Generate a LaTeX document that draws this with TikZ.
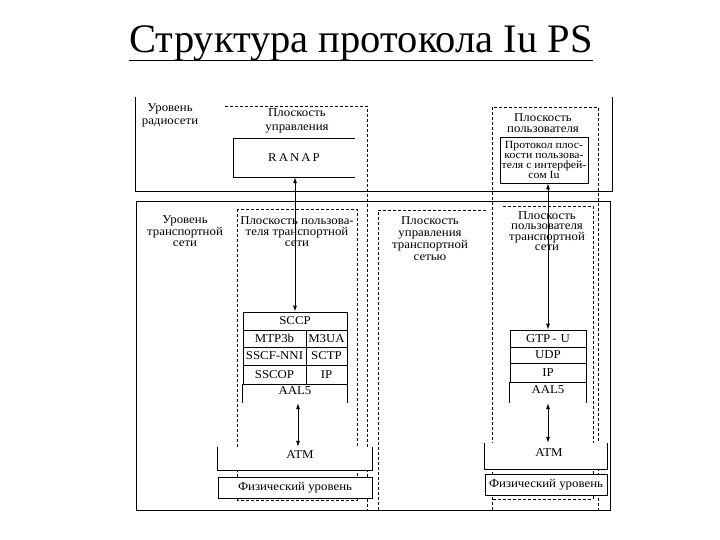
\documentclass[tikz,border=0pt]{standalone}
\usepackage{fontspec}
\setmainfont{Liberation Serif}[FakeStretch=1.07]
\newfontfamily\titlefont{Liberation Serif}
\usetikzlibrary{arrows.meta,calc}
\tikzset{
  lbl/.style={align=center, inner sep=0pt, font=\fontsize{12}{12}\selectfont},
  cell/.style={draw, line width=0.8pt, inner sep=0pt, font=\fontsize{12}{12}\selectfont},
  hollow/.style={inner sep=0pt, fill=white},
  frame/.style={line width=0.9pt},
  plane/.style={dash pattern=on 3pt off 2pt, line width=0.7pt},
  side/.style={line width=0.8pt},
  link/.style={line width=0.8pt, {Latex[length=6pt,width=4pt]}-{Latex[length=6pt,width=4pt]}},
}
\begin{document}
\begin{tikzpicture}[x=1pt,y=-1pt]
\useasboundingbox (0,0) rectangle (720,540);
% title
\node[inner sep=0pt, anchor=base, font=\titlefont\fontsize{40.5}{42}\selectfont] (title) at (361,53) {Структура протокола Iu PS};
\draw[line width=1pt] ($(title.base west)+(0,8)$) -- ($(title.base east)+(0,8)$);

% level frames
\draw[frame] (135,97) -- (135,191) -- (612,191) -- (612,97);
\draw[frame] (136,201) rectangle (610,510);

% dashed planes
\draw[plane] (225,106) -- (367,106) -- (367,510);
\draw[plane] (492,510) -- (492,107) -- (598,107) -- (598,510);
\draw[plane] (237,209) rectangle (357,500);
\draw[plane] (378,510) -- (378,210) -- (488,210);
\draw[plane] (503,206) -- (593,206) -- (593,499) -- (492,499);

% texts of levels and planes
\node[lbl, font=\fontsize{12}{13}\selectfont] (radio) at (170,115) {Уровень\\радиосети};
\node[lbl, font=\fontsize{12}{14}\selectfont] (ctrl) at (297,121) {Плоскость\\управления};
\node[lbl, font=\fontsize{12}{11.5}\selectfont] (usertop) at (543,123) {Плоскость\\пользователя};
\node[lbl, font=\fontsize{12}{10.5}\selectfont] (transp) at (185,231) {Уровень\\транспортной\\сети};
\node[lbl, font=\fontsize{12}{11}\selectfont] (tuserl) at (297,231.5) {Плоскость пользова-\\теля транспортной\\сети};
\node[lbl, font=\fontsize{12}{12}\selectfont] (tctrl) at (430,239) {Плоскость\\управления\\транспортной\\сетью};
\node[lbl, font=\fontsize{12}{10.5}\selectfont] (tuserr) at (547,231) {Плоскость\\пользователя\\транспортной\\сети};

% RANAP (open at right)
\node[minimum width=121pt, minimum height=38pt, inner sep=0pt] (ranap) at (294.5,158) {};
\node[lbl] (ranapt) at (294,158) {R\,A\,N\,A\,P};
\draw[side] (ranap.north east) -- (ranap.north west) -- (ranap.south west) -- (ranap.south east);

% user plane protocol box
\node[cell, minimum width=88pt, minimum height=46pt, align=center, font=\fontsize{11}{9.7}\selectfont] (proto) at (544,160)
  {Протокол плос-\\кости пользова-\\теля с интерфей-\\сом Iu};

% left stack
\node[cell, minimum width=104pt, minimum height=18pt] (sccp) at (295,321) {SCCP};
\node[cell, minimum width=63pt, minimum height=17pt] (mtp) at (274.5,338.5) {MTP3b};
\node[cell, minimum width=41pt, minimum height=17pt] (m3ua) at (326.5,338.5) {M3UA};
\node[cell, minimum width=63pt, minimum height=18pt] (sscf) at (274.5,356) {SSCF-NNI};
\node[cell, minimum width=41pt, minimum height=18pt] (sctp) at (326.5,356) {SCTP};
\node[cell, minimum width=63pt, minimum height=19pt] (sscop) at (274.5,374.5) {SSCOP};
\node[cell, minimum width=41pt, minimum height=19pt] (ipl) at (326.5,374.5) {IP};
\node[minimum width=104pt, minimum height=19pt, inner sep=0pt] (aall) at (295,393.5) {};
\node[lbl] (aallt) at (295,391) {AAL5};
\draw[side] (aall.north west) -- (aall.south west);
\draw[side] (aall.north east) -- (aall.south east);

% right stack
\node[cell, minimum width=76pt, minimum height=17pt] (gtp) at (548,338.5) {GTP\,-\,\,U};
\node[cell, minimum width=76pt, minimum height=16pt] (udp) at (548,355) {UDP};
\node[cell, minimum width=76pt, minimum height=19pt] (ipr) at (548,372.5) {IP};
\node[minimum width=76pt, minimum height=21pt, inner sep=0pt] (aalr) at (548,392.5) {};
\node[lbl] (aalrt) at (548,390) {AAL5};
\draw[side] (aalr.north west) -- (aalr.south west);
\draw[side] (aalr.north east) -- (aalr.south east);

% left ATM and physical
\node[hollow, minimum width=154pt, minimum height=23pt] (atml) at (295,458.5) {};
\node[lbl] (atmlt) at (300,455) {ATM};
\draw[side] (atml.north west) -- (atml.south west) -- (atml.south east) -- (atml.north east);
\node[cell, fill=white, minimum width=154pt, minimum height=21pt] (physl) at (295,487.5) {Физический уровень};
\draw[line width=1.6pt] (physl.south west) -- (physl.south east);

% right ATM and physical
\node[hollow, minimum width=122pt, minimum height=26pt] (atmr) at (546,456) {};
\node[lbl] (atmrt) at (549,453) {ATM};
\draw[side] (atmr.north west) -- (atmr.south west) -- (atmr.south east) -- (atmr.north east);
\node[cell, fill=white, minimum width=122pt, minimum height=21pt] (physr) at (546,484.5) {Физический уровень};

% connectors
\draw[link] (ranap.south -| sccp.north) -- (sccp.north);
\draw[link] (proto.south -| gtp.north) -- (gtp.north);
\draw[link] ([xshift=3pt]aall.south) -- ([xshift=3pt]aall.south |- atml.north);
\draw[link] (aalr.south) -- (aalr.south |- atmr.north);
\end{tikzpicture}
\end{document}
